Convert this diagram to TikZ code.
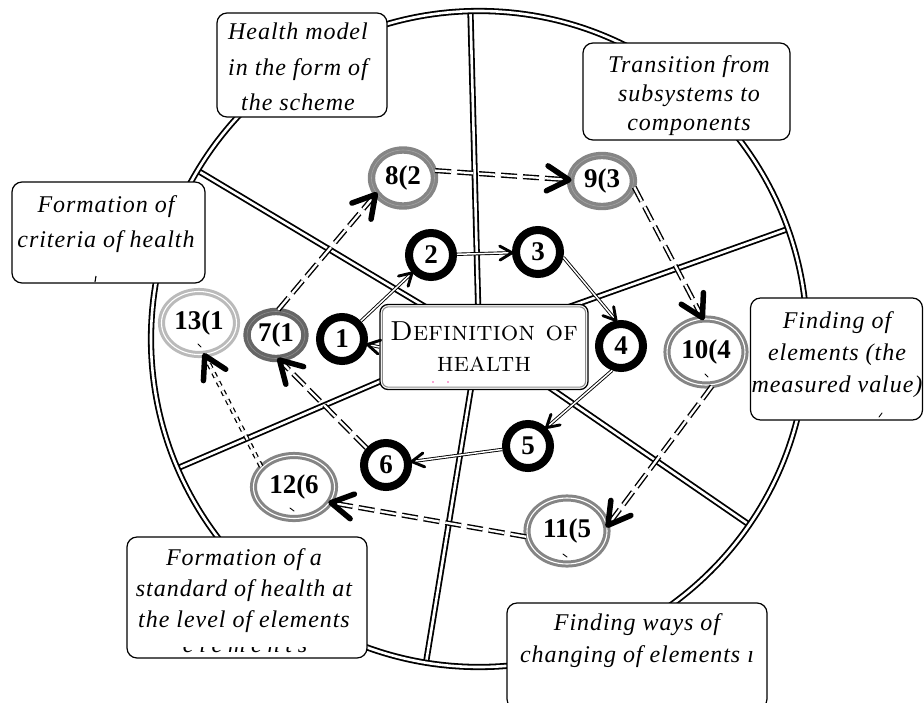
\documentclass[tikz,border=0pt]{standalone}
\usepackage{fontspec}
\usetikzlibrary{calc,shapes.geometric}
\newfontfamily\labelfont[LetterSpace=4]{Liberation Serif}
\newfontfamily\numfont{Liberation Serif}

% connector: double line from node to node, finished with a chevron head
% #1 name, #2 line style, #3 head style, #4 head length, #5 half-angle, #6 from, #7 to
\newcommand{\chevlink}[7]{%
  \draw[#2] (#6) -- (#7);
  \path (#6) -- (#7) coordinate[pos=0] (#1-s) coordinate[pos=1] (#1-e);
  \draw[#3] ($(#1-e)!#4!#5:(#1-s)$) -- (#1-e) -- ($(#1-e)!#4!-#5:(#1-s)$);
}
\newcommand{\solidlink}[3]{\chevlink{#1}{solidpair}{smallhead}{14pt}{30}{#2}{#3}}
\newcommand{\dashlink}[3]{\chevlink{#1}{dashpair}{bighead}{25pt}{30}{#2}{#3}}
\newcommand{\dotlink}[3]{\chevlink{#1}{dotpair}{bighead}{25pt}{30}{#2}{#3}}

\begin{document}
\begin{tikzpicture}[x=1pt,y=-1pt,
  wheel/.style={line width=1.8pt, double=white, double distance=2.6pt},
  solidpair/.style={line width=0.9pt, double=white, double distance=1.5pt},
  dashpair/.style={line width=1.4pt, double=white, double distance=2.3pt, dash pattern=on 16pt off 6pt},
  dotpair/.style={line width=1.3pt, double=white, double distance=2.2pt, dash pattern=on 5pt off 5pt},
  smallhead/.style={line width=2.9pt, line cap=round, line join=round},
  bighead/.style={line width=5.5pt, line cap=round, line join=round},
  numtext/.style={font=\numfont\bfseries\fontsize{27}{27}\selectfont},
  blkring/.style={circle, draw=black, line width=8pt, fill=white, minimum size=44pt, inner sep=0pt, numtext},
  darkring/.style={ellipse, draw=black!60, line width=3.4pt, double=black!45, double distance=0.6pt, fill=white, inner sep=0pt, numtext},
  midring/.style={ellipse, draw=black!48, line width=3.4pt, double=black!36, double distance=0.6pt, fill=white, inner sep=0pt, numtext},
  twinring/.style={ellipse, draw=black!48, line width=3pt, double=white, double distance=1.1pt, fill=white, inner sep=0pt, numtext},
  palering/.style={ellipse, draw=black!27, line width=3pt, double=white, double distance=1.1pt, fill=white, inner sep=0pt, numtext},
  defbox/.style={draw=black, line width=1.3pt, rounded corners=8pt, fill=white, minimum width=208pt, minimum height=85pt, align=center, inner sep=0pt, font=\fontsize{27.5}{31}\selectfont},
  panel/.style={draw=black, line width=1.2pt, rounded corners=10pt, fill=white, inner sep=0pt},
  paneltext/.style={align=center, inner sep=0pt, font=\labelfont\itshape\fontsize{24}{#1}\selectfont},
  speck/.style={line width=0.9pt, line cap=round}
]
\useasboundingbox (0,0) rectangle (924,702);

% wheel: six spokes and the rim
\coordinate (O) at (479,339);
\foreach \a in {91.5,149.1,19.6,203.2,260.7,325.5}
  \draw[wheel] (O) -- ($(O)+(\a:328pt)$);
\draw[wheel] (O) circle[radius=328pt];

% centre
\node[defbox] (def) at (484,347) {\textsc{Definition of}\\\textsc{health}};
\draw[black!45, line width=1.1pt, rounded corners=6pt]
  ([xshift=3pt,yshift=3pt]def.south west) rectangle ([xshift=-3pt,yshift=-3pt]def.north east);
\fill[magenta!70] (433,382) circle[radius=0.8pt] (448,382) circle[radius=0.8pt];

% inner cycle
\node[blkring] (c1) at (342,339) {1};
\node[blkring] (c2) at (431,255) {2};
\node[blkring] (c3) at (538,252) {3};
\node[blkring] (c4) at (621,346) {4};
\node[blkring] (c5) at (528,446) {5};
\node[blkring] (c6) at (386,465) {6};

% outer cycle
\node[darkring, minimum width=58pt, minimum height=47pt] (g7) at (276,335) {7(1};
\node[midring, minimum width=63pt, minimum height=56pt] (g8) at (403,178) {8(2};
\node[midring, minimum width=63pt, minimum height=51pt] (g9) at (602,181) {9(3};
\node[twinring, minimum width=78pt, minimum height=66pt] (g10) at (706,352) {10(4};
\node[twinring, minimum width=80pt, minimum height=66pt] (g11) at (567,531) {11(5};
\node[twinring, minimum width=81pt, minimum height=63pt] (g12) at (294,487) {12(6};
\node[palering, minimum width=75pt, minimum height=63pt] (g13) at (199,323) {13(1};
\draw[speck] (198,344) -- (201,347);
\draw[speck] (705,374) -- (708,377);
\draw[speck] (563,554) -- (567,557);
\draw[speck] (290,508) -- (294,511);

% captions
\node[panel, minimum width=170pt, minimum height=104pt] (b1) at (302,65) {};
\node[paneltext=35.5] (t1) at (298,67) {Health model\\in the form of\\the scheme};
\node[panel, minimum width=207pt, minimum height=97pt] (b2) at (686.5,91.5) {};
\node[paneltext=29] (t2) at (689,95.5) {Transition from\\subsystems to\\components};
\node[panel, minimum width=193pt, minimum height=101pt] (b3) at (108.5,232.5) {};
\node[paneltext=35] (t3) at (106,224) {Formation of\\criteria of health};
\draw[line width=1.1pt] (96,276) -- (95,282);
\node[panel, minimum width=172pt, minimum height=122pt] (b4) at (836.5,359) {};
\node[paneltext=32] (t4) at (837,354.5) {Finding of\\elements (the\\measured value)};
\draw[speck] (882,413) -- (879,417);
\node[panel, minimum width=240pt, minimum height=121pt] (b5) at (247,597.5) {};
\node[paneltext=31] (t5) at (244,590.5) {Formation of a\\standard of health at\\the level of elements};
\begin{scope}
  \clip (170,647) rectangle (330,653);
  \node[paneltext=31, anchor=base] (t5cut) at (245,652) {\addfontfeature{LetterSpace=24}elements};
\end{scope}
\node[panel, minimum width=260pt, minimum height=106pt] (b6) at (637,656) {};
\node[paneltext=32] (t6) at (637,640.5) {Finding ways of\\changing of elements ı};

% connectors
\solidlink{l01}{def.west}{c1}
\solidlink{l12}{c1}{c2}
\solidlink{l23}{c2}{c3}
\solidlink{l34}{c3.348}{c4.101}
\solidlink{l45}{c4.250}{c5.45}
\solidlink{l56}{c5}{c6}
\dashlink{l67}{c6.139}{g7.278}
\dashlink{l78}{g7.85}{g8.211}
\dashlink{l89}{g8.13}{g9.178}
\dashlink{l910}{g9.349}{g10.96}
\dashlink{l1011}{g10.280}{g11.8}
\dashlink{l1112}{g11.188}{g12.337}
\dotlink{l1213}{g12.148}{g13.280}
\end{tikzpicture}
\end{document}
